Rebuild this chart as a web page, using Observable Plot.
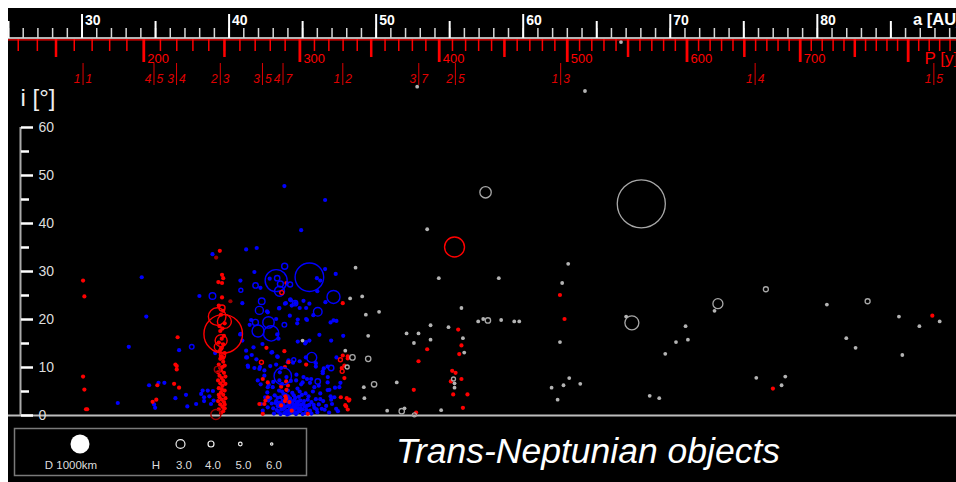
<!DOCTYPE html>
<html><head><meta charset="utf-8">
<script src="https://cdn.jsdelivr.net/npm/d3@7"></script>
<script src="https://cdn.jsdelivr.net/npm/@observablehq/plot@0.6"></script>
<style>
html{overflow:hidden;background:#fff;}
body{margin:0;padding:8px 0 0 8px;width:1100px;background:#fff;}
#wrap{position:relative;width:1000px;height:480px;background:#000;font-family:"Liberation Sans",Arial,sans-serif;}
#chart{position:absolute;left:0;top:0;width:1000px;}
#legend{position:absolute;left:0;top:412px;}
</style></head><body>
<div id="wrap"><div id="chart"></div><svg id="legend" width="1000" height="68"></svg></div>
<script>
// ---- axis tick values ----
const aMajor = [30, 40, 50, 60, 70, 80, 90];
const aFive = [25, 35, 45, 55, 65, 75, 85];
const aMinor = d3.range(25, 93, 1);
const pMajor = [200, 300, 400, 500, 600, 700];
const pLong = [200, 300, 400, 500, 600, 700, 800];
const pFifty = [150, 250, 350, 450, 550, 650, 750, 850];
const pMinor = d3.range(130, 900, 10);
const iMajor = [0, 10, 20, 30, 40, 50, 60];
const iMinor = [5, 15, 25, 35, 45, 55];
// mean motion resonances with Neptune (p:q)
const resP = [1, 4, 3, 2, 3, 4, 1, 3, 2, 1, 1, 1];
const resQ = [1, 5, 4, 3, 5, 7, 2, 7, 5, 3, 4, 5];
const aNeptune = 30.07;

// ---- objects: [a (AU), i (deg)] ----
const grayDots = [
[45.0,15.6],[48.6,30.8],[48.23,24.4],[49.05,24.8],[49.3,21.0],[49.46,16.6],[47.9,13.5],[49.16,5.9],[49.2,3.6],[50.2,21.6],[50.75,1.0],
[53.47,38.8],[54.26,28.6],[58.34,28.6],[63.06,31.6],[62.65,27.6],[62.5,15.3],[67.0,20.6],[55.8,22.4],[53.7,18.8],[54.92,18.4],
[53.7,15.8],[52.07,17.1],[52.88,17.1],[52.57,15.1],[56.94,19.6],[57.28,20.1],[58.5,19.9],[59.39,19.6],[59.73,19.6],[55.9,16.1],
[55.99,13.1],[55.33,6.7],[55.33,5.8],[51.4,6.9],[51.93,1.5],[54.42,1.1],[61.93,5.8],[62.34,3.3],[62.74,6.3],[63.13,7.8],[63.88,6.6],
[73.01,21.8],[80.65,23.1],[71.04,18.6],[70.39,15.3],[71.2,15.8],[69.66,12.85],[68.6,4.1],[69.25,3.6],[75.85,7.85],[77.82,8.1],
[77.57,6.3],[81.97,16.1],[82.6,14.1],[85.55,20.6],[86.94,18.6],[85.78,12.6],[88.32,19.6],[52.79,68.5],[66.65,77.8],[64.2,67.6]
];
const blueDots = [
[32.43,2.6],[33.18,14.3],[34.06,28.8],[34.37,20.6],[34.56,6.3],[35.2,6.8],[35.6,6.8],[34.9,2.3],[34.97,1.6],[36.6,13.6],[36.35,3.6],
[37.07,4.3],[37.16,1.9],[37.76,2.4],[37.98,24.9],[38.87,33.6],[41.16,34.6],[41.88,34.9],[43.76,47.8],[46.53,44.9],[44.9,38.6],
[41.72,29.9],[40.77,28.1],[42.13,26.6],[42.76,28.5],[46.53,30.5],[47.25,29.5],[45.97,28.6],[46.2,28.1],[46.0,25.9],[44.17,24.2],
[40.9,23.4],[43.4,22.3],[42.63,21.5],[43.86,23.4],[44.15,24.1],[45.06,23.9],[45.46,23.3],[45.73,20.9],[45.24,20.1],[44.67,20.0],
[43.2,20.1],[44.13,20.8],[46.55,23.6],[47.1,19.8],[46.9,19.4],[47.3,19.7],[41.5,19.9],[41.4,18.9],[40.75,16.9],[40.9,15.6],
[41.66,14.2],[42.27,14.9],[43.27,16.9],[43.36,16.0],[44.67,15.4],[45.17,15.0],[45.46,15.6],[46.14,16.8],[46.94,15.6],[39.05,13.0],
[41.16,13.5],[42.88,13.1],[41.22,12.1],[41.54,12.6],[41.86,11.7],[43.27,12.3],[44.8,11.3],[45.22,12.1],[45.9,10.2],[46.44,9.8],
[46.7,10.2],[47.3,12.1],[44.35,11.0],[44.04,11.5],[41.29,10.1],[41.72,9.9],[42.1,10.1],[42.8,10.3],[43.45,9.0],[44.58,8.5],
[45.06,8.0],[46.37,8.8],[46.71,8.0],[47.57,6.8],[44.2,24.0],[44.5,23.4],[44.26,22.9],[43.8,23.3],[42.58,21.7],[43.42,22.4],
[44.8,22.4],[45.24,22.4],[44.63,19.2],[45.3,19.9],[45.24,15.3],[42.93,13.2],[43.31,12.2],[43.99,11.1],[43.2,10.6],[43.54,9.9],
[45.9,10.9],[46.37,9.2],[47.76,16.6],[47.16,3.8],[46.94,3.3],[47.28,1.4],[47.4,0.9],[38.2,5.2],[38.1,4.5],[38.3,3.8],[38.66,4.0],
[38.9,5.1],[38.55,5.2],[38.3,3.0],[38.77,2.4],[38.95,3.1],[40.8,17.0],[41.16,12.1],[41.27,10.4],[42.06,9.7],[42.4,9.4],[41.95,7.3],
[42.15,6.5],[42.63,5.9],[42.45,3.8],[42.68,3.1],[42.18,2.4],[42.63,1.7],[42.29,1.0],[45.58,7.6],[46.7,6.9],[47.5,5.9],[44.56,7.3],
[45.0,6.9],[45.8,5.9],[46.82,5.35],[42.97,5.9],[43.42,7.3],
[42.6,4.8],[42.8,3.6],[42.9,2.5],[43.0,1.5],[43.1,4.2],[43.2,3.0],[43.3,2.0],[43.35,0.8],[43.4,5.2],[43.5,3.8],[43.55,1.2],[43.6,2.6],
[43.7,4.5],[43.75,0.5],[43.8,3.3],[43.85,1.8],[43.95,2.9],[44.0,4.0],[44.05,1.0],[44.1,2.3],[44.15,3.5],[44.2,0.6],[44.25,1.6],
[44.3,2.8],[44.3,4.7],[44.4,1.2],[44.45,3.2],[44.5,2.0],[44.55,0.3],[44.6,2.6],[44.65,5.6],[44.7,1.5],[44.75,3.9],[44.8,0.9],
[44.9,2.2],[44.95,4.3],[45.0,1.3],[45.1,3.0],[45.2,0.5],[45.3,2.0],[45.4,4.0],[45.5,1.0],[45.6,2.8],[45.7,5.0],[45.8,1.6],
[45.9,3.4],[46.0,0.7],[46.1,2.3],[46.2,4.6],[46.3,1.4],[46.4,3.0],[46.6,2.0],[46.7,5.3],[46.8,0.6],[46.9,4.0],[47.0,2.4],
[47.2,5.8],[42.7,6.4],[43.0,7.0],[43.6,6.6],[44.2,7.2],[44.9,6.5],[45.5,6.8],[46.1,6.2],[45.3,7.6],[43.9,8.0],[42.4,8.3],
[43.15,2.6],[43.65,3.1],[44.35,2.4],[44.05,3.6],[43.45,1.9],[44.7,2.9],[45.15,1.9],[43.9,0.9],
[43.05,0.4],[43.25,1.1],[43.4,2.7],[43.5,0.3],[43.7,1.4],[43.7,2.2],[43.85,4.3],[43.95,0.2],[44.0,2.0],[44.1,0.4],[44.15,1.4],
[44.25,3.0],[44.3,0.9],[44.35,1.9],[44.45,0.6],[44.5,3.7],[44.55,1.6],[44.65,0.7],[44.7,2.2],[44.85,1.5],[44.85,3.1],[45.0,0.3],
[45.05,2.5],[45.25,1.2],[45.35,3.3],[45.45,2.2],[45.6,0.4],[45.75,2.2],[45.95,1.3],[46.2,3.4],[46.5,1.2],[43.3,3.7],[43.6,5.0],
[44.0,5.2],[44.4,4.2],[44.8,5.0],[45.2,4.6]
];
const redDots = [
[30.07,28.1],[30.16,24.8],[30.07,8.1],[30.16,5.4],[30.27,1.3],[30.35,1.3],[35.12,6.3],[35.05,3.3],[34.8,2.85],[36.5,16.3],
[36.35,10.6],[36.44,10.3],[36.44,9.6],[36.26,6.6],[36.6,5.8],
[39.37,34.3],[39.6,28.6],[39.52,29.3],[39.27,27.8],[39.52,27.6],[39.52,24.6],[39.3,22.9],[39.6,21.8],[39.45,21.0],[39.7,19.2],
[39.35,18.6],[39.55,18.1],[39.4,17.6],[39.65,16.6],[39.5,16.0],[39.3,15.2],[39.6,14.8],[39.45,14.0],[39.35,13.4],[39.7,13.0],
[39.5,12.4],[39.4,11.8],[39.6,11.2],[39.3,10.6],[39.55,10.1],[39.45,9.4],[39.65,8.9],[39.35,8.3],[39.5,7.8],[39.6,7.2],[39.4,6.7],
[39.55,6.2],[39.3,5.7],[39.7,5.2],[39.45,4.8],[39.6,4.3],[39.35,3.8],[39.5,3.3],[39.65,2.8],[39.4,2.3],[39.55,1.8],[39.3,1.3],
[39.6,0.9],[39.45,0.5],[39.7,1.5],[39.25,3.0],[39.75,3.6],[39.4,9.9],[39.6,12.0],
[39.7,10.4],[39.25,7.3],[39.75,6.6],[39.3,4.3],[39.7,2.3],[39.5,5.5],[39.25,9.0],[39.75,8.1],
[43.9,27.6],[47.73,23.4],[42.54,14.1],[43.76,13.4],[47.73,12.5],[48.07,12.3],[48.07,11.9],[44.04,11.1],[43.8,10.1],[47.84,7.8],
[47.6,3.8],[48.0,3.6],[48.14,3.1],[47.9,2.15],[48.07,1.25],[45.24,10.6],[42.29,7.6],[42.63,6.9],[43.88,7.1],[44.0,6.25],
[43.54,6.0],[47.84,10.4],[47.66,9.9],[48.18,3.3],[47.96,1.9],[43.88,3.5],[44.1,2.8],[43.54,2.1],[42.4,2.4],[42.63,3.8],
[45.35,0.35],[42.06,2.4],[42.29,0.35],[42.47,3.1],[43.8,3.0],[44.26,1.0],[43.9,5.35],[43.83,4.0],
[55.58,17.9],[55.8,14.6],[55.65,12.8],[53.47,13.8],[52.88,11.3],[55.17,9.3],[55.4,8.9],[55.08,7.1],[55.8,7.6],[52.56,5.35],
[55.24,4.4],[56.21,4.4],[55.9,1.6],[52.72,0.6],[62.5,25.1],[62.81,20.1],[76.98,5.6],[87.82,20.8]
];
const darkRedDots = [[39.12,32.9],[40.09,23.8]];

// ---- larger objects: [a (AU), i (deg), diameter (km)] ----
const grayBig = [
[68.03,44.1,2530],[57.44,46.5,600],[67.39,19.3,737],[73.24,23.3,526],[76.5,26.3,263],[83.42,23.8,263],[48.39,12.1,284],
[49.46,11.8,284],[48.03,10.1,210],[49.86,6.5,284],[57.6,19.8,284],[55.26,7.6,210],[51.74,0.9,284],[52.6,0.15,210]
];
const blueBig = [
[37.46,14.3,242],[38.87,24.9,347],[40.8,26.1,210],[41.8,27.1,284],[43.2,28.1,1160],[45.46,28.8,1505],[43.78,31.1,316],
[43.27,28.6,284],[43.49,27.4,316],[43.43,25.9,526],[44.15,27.3,263],[47.1,24.7,684],[42.22,23.8,347],[42.06,21.9,421],
[44.49,23.4,284],[46.03,21.6,453],[42.68,19.4,600],[41.97,17.6,632],[42.86,17.1,810],[41.79,19.4,316],[43.76,18.9,242],
[45.62,12.1,526],[44.4,11.6,210],[43.65,8.2,916],[46.03,7.1,284],[46.94,9.9,284]
];
const redBig = [
[39.6,17.0,2030],[39.19,20.6,926],[39.68,19.6,737],[39.52,22.4,316],[39.46,15.6,632],[39.3,14.3,474],[39.55,12.5,316],
[43.58,25.6,210],[47.57,11.6,210],[42.2,11.1,210],[47.69,9.2,210],[55.33,35.1,1050]
];
const darkRedBig = [[39.2,9.6,316],[39.1,0.2,526]];

// legend
const legendDiamKm = 1000;
const legendH = ["3.0", "4.0", "5.0", "6.0"];
const legendHDiam = [470, 315, 190, 125];

const xDomain = [25, 93];
const yDomain = [0, 78.333];
const aOf = p => Math.pow(p, 2 / 3);
const resA = resP.map((p, k) => aNeptune * Math.pow(resQ[k] / p, 2 / 3));
const res = resP.map((p, k) => ({a: resA[k], p, q: resQ[k]}));
const fx = d => d[0], fy = d => d[1], fd = d => d[2];
const RED = "#ff0000";
const FONT = "Liberation Sans, Arial, sans-serif";

const chart = Plot.plot({
  width: 1000, height: 412,
  marginTop: 31, marginBottom: 5, marginLeft: 0, marginRight: 0,
  style: {background: "transparent", fontFamily: FONT, overflow: "visible", maxWidth: "none"},
  x: {domain: xDomain},
  y: {domain: yDomain},
  r: {type: "linear", domain: [0, 1000], range: [0, 9.5]},
  marks: [
    // baseline
    Plot.ruleY([0], {stroke: "#bdbdbd", strokeWidth: 2}),
    // top double line
    Plot.ruleY([yDomain[1]], {dy: -1.5, stroke: "#f0f0f0", strokeWidth: 1.6}),
    Plot.ruleY([yDomain[1]], {dy: 0.3, stroke: RED, strokeWidth: 1.2}),
    // a axis (white, pointing up)
    Plot.axisX({anchor: "top", ticks: aMinor, tickSize: 10, dy: -2, stroke: "#d8d8d8", strokeWidth: 1.5, tickFormat: () => "", label: null}),
    Plot.axisX({anchor: "top", ticks: aFive, tickSize: 17, dy: -2, stroke: "#ffffff", strokeWidth: 2, tickFormat: () => "", label: null}),
    Plot.axisX({anchor: "top", ticks: aMajor, tickSize: 24, dy: -2, stroke: "#ffffff", strokeWidth: 2, tickFormat: () => "", label: null}),
    Plot.text(aMajor, {x: d => d, text: d => String(d), frameAnchor: "top", dy: -15, dx: 3, textAnchor: "start", lineAnchor: "bottom", fill: "#fff", fontWeight: "bold", fontSize: 14}),
    // P axis (red, pointing down)
    Plot.axisX({anchor: "bottom", frameAnchor: "top", ticks: pMinor.map(aOf), tickSize: 12, dy: 0, stroke: RED, strokeWidth: 1.5, tickFormat: () => "", label: null}),
    Plot.axisX({anchor: "bottom", frameAnchor: "top", ticks: pFifty.map(aOf), tickSize: 18, dy: 0, stroke: RED, strokeWidth: 2.5, tickFormat: () => "", label: null}),
    Plot.axisX({anchor: "bottom", frameAnchor: "top", ticks: pLong.map(aOf), tickSize: 23, dy: 0, stroke: RED, strokeWidth: 2.8, tickFormat: () => "", label: null}),
    Plot.text(pMajor, {x: aOf, text: d => String(d), frameAnchor: "top", dy: 23.5, dx: 3.5, textAnchor: "start", lineAnchor: "bottom", fill: RED, fontSize: 13}),
    // resonances
    Plot.axisX({anchor: "bottom", frameAnchor: "top", ticks: resA, tickSize: 22, dy: 24, stroke: "#e00000", strokeWidth: 1, tickFormat: () => "", label: null}),
    Plot.text(res, {x: "a", text: d => String(d.p), frameAnchor: "top", dy: 43.5, dx: -2.5, textAnchor: "end", lineAnchor: "bottom", fill: "#e00000", fontStyle: "italic", fontSize: 12}),
    Plot.text(res, {x: "a", text: d => String(d.q), frameAnchor: "top", dy: 43.5, dx: 2.5, textAnchor: "start", lineAnchor: "bottom", fill: "#e00000", fontStyle: "italic", fontSize: 12}),
    // axis labels
    Plot.text(["a [AU]"], {text: d => d, frameAnchor: "top-left", dx: 904.5, dy: -15, textAnchor: "start", lineAnchor: "bottom", fill: "#fff", fontWeight: "bold", fontSize: 16.5}),
    Plot.text(["P [y]"], {text: d => d, frameAnchor: "top-left", dx: 916, dy: 24, textAnchor: "start", lineAnchor: "bottom", fill: RED, fontSize: 17}),
    Plot.text(["i [°]"], {text: d => d, frameAnchor: "top-left", dx: 12, dy: 66, textAnchor: "start", lineAnchor: "bottom", fill: "#eee", fontSize: 24}),
    // i axis
    Plot.ruleX([xDomain[0]], {y1: iMajor[0], y2: iMajor[iMajor.length - 1], dx: 12, stroke: "#aaaaaa", strokeWidth: 2}),
    Plot.axisY({anchor: "right", frameAnchor: "left", dx: 12, ticks: iMinor, tickSize: 8, tickFormat: () => "", stroke: "#fff", strokeWidth: 2.5, label: null}),
    Plot.axisY({anchor: "right", frameAnchor: "left", dx: 12, ticks: iMajor, tickSize: 12, tickPadding: 6, stroke: "#fff", strokeWidth: 2.5, fill: "#ddd", fontSize: 14, label: null}),
    // objects
    Plot.dot(grayDots, {x: fx, y: fy, r: 1.9, fill: "#b4b4b4"}),
    Plot.dot(blueDots, {x: fx, y: fy, r: 2.1, fill: "#0000ff"}),
    Plot.dot(redDots, {x: fx, y: fy, r: 2.1, fill: RED}),
    Plot.dot(darkRedDots, {x: fx, y: fy, r: 2.1, fill: "#a00000"}),
    Plot.dot(grayBig, {x: fx, y: fy, r: fd, stroke: "#a8a8a8", strokeWidth: 1.3, fill: "none"}),
    Plot.dot(blueBig, {x: fx, y: fy, r: fd, stroke: "#0000ff", strokeWidth: 1.4, fill: "none"}),
    Plot.dot(redBig, {x: fx, y: fy, r: fd, stroke: RED, strokeWidth: 1.4, fill: "none"}),
    Plot.dot(darkRedBig, {x: fx, y: fy, r: fd, stroke: "#a00000", strokeWidth: 1.4, fill: "none"})
  ]
});
document.getElementById("chart").append(chart);

// legend and title
const rS = chart.scale("r");
const rr = d => rS.apply(d);
const lg = d3.select("#legend");
lg.append("rect").attr("x", 6.5).attr("y", 8.5).attr("width", 292).attr("height", 47)
  .attr("fill", "none").attr("stroke", "#7a7a7a").attr("stroke-width", 1.5);
lg.append("circle").attr("cx", 72).attr("cy", 24).attr("r", rr(legendDiamKm)).attr("fill", "#fff");
lg.append("text").attr("x", 63).attr("y", 49.3).attr("text-anchor", "middle").attr("fill", "#ddd")
  .style("font", `11.5px ${FONT}`).text(`D ${legendDiamKm}km`);
lg.append("text").attr("x", 148).attr("y", 49.3).attr("text-anchor", "middle").attr("fill", "#ddd")
  .style("font", `11.5px ${FONT}`).text("H");
const hx = [176, 205, 235.5, 266];
const cx = [172.5, 203, 232.3, 263.7];
legendH.forEach((h, k) => {
  lg.append("circle").attr("cx", cx[k]).attr("cy", 24).attr("r", rr(legendHDiam[k]))
    .attr("fill", "none").attr("stroke", "#eee").attr("stroke-width", 1.2);
  lg.append("text").attr("x", hx[k]).attr("y", 49.3).attr("text-anchor", "middle").attr("fill", "#ddd")
    .style("font", `11.5px ${FONT}`).text(h);
});
lg.append("text").attr("x", 580).attr("y", 43).attr("text-anchor", "middle").attr("fill", "#fff")
  .style("font", `italic 35.5px ${FONT}`).text("Trans-Neptunian objects");
</script></body></html>
